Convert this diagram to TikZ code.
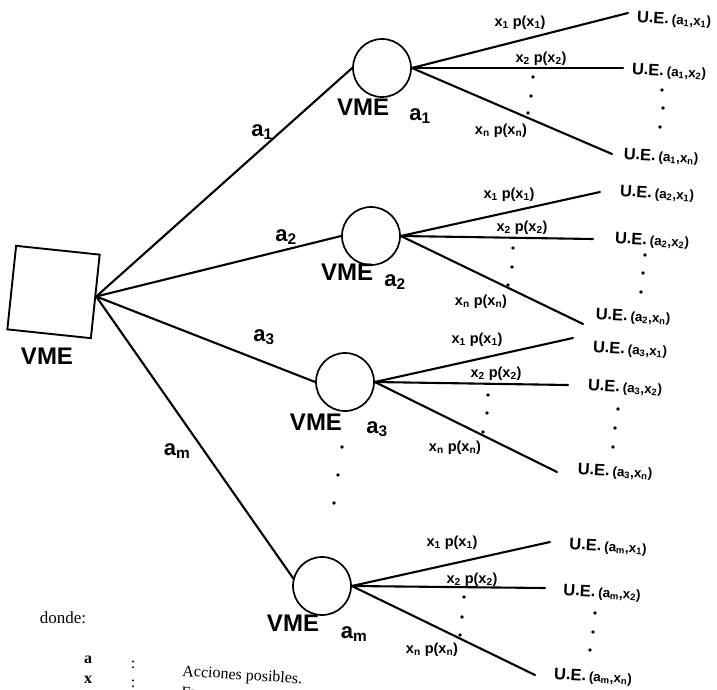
\documentclass[tikz,border=0pt]{standalone}
\usepackage{fontspec}
\setmainfont{Liberation Sans}
\newfontfamily\serifface{Liberation Serif}
\newcommand\uelab[2]{{\fontsize{16.5}{16.5}\selectfont\bfseries U.E.}\ {\fontsize{13.5}{13.5}\selectfont\bfseries (a\textsubscript{#1},x\textsubscript{#2})}}
\newcommand\brlab[1]{x\textsubscript{#1} p(x\textsubscript{#1})}
\begin{document}
\begin{tikzpicture}[x=1pt,y=-1pt,
  branch/.style={line width=2.1pt, line cap=round},
  chance/.style={circle, draw, line width=1.7pt, minimum size=58pt, inner sep=0pt},
  decision/.style={rectangle, draw, line width=1.9pt, minimum size=84pt, inner sep=0pt, rotate=-6},
  vme/.style={font=\fontsize{24}{24}\selectfont\bfseries, inner sep=0pt},
  act/.style={font=\fontsize{22}{22}\selectfont\bfseries, inner sep=0pt},
  ue/.style={inner sep=0pt, rotate=-3},
  br/.style={font=\fontsize{14.5}{14.5}\selectfont\bfseries, inner sep=0pt},
  serif/.style={font=\fontsize{16}{16}\selectfont\serifface, inner sep=0pt},
]
\fill[white] (0,0) rectangle (717,690);
\useasboundingbox (0,0) rectangle (717,690);

% decision node
\node[decision] (root) at (53.5,292) {};
\node[vme] (rootlab) at (47,356) {VME};

% chance nodes
\node[chance] (c1) at (382,68) {};
\node[chance] (c2) at (371,236) {};
\node[chance] (c3) at (345,382) {};
\node[chance] (cm) at (322,586) {};

\node[vme] (v1) at (363,107) {VME};
\node[vme] (v2) at (347,272) {VME};
\node[vme] (v3) at (316,422) {VME};
\node[vme] (vm) at (293,623) {VME};
\node[act] (s1) at (420,116) {a\textsubscript{1}};
\node[act] (s2) at (395,282) {a\textsubscript{2}};
\node[act] (s3) at (377,429) {a\textsubscript{3}};
\node[act] (sm) at (354,634) {a\textsubscript{m}};

% actions
\draw[branch] (root.east) -- (c1.west);
\draw[branch] (root.east) -- (c2.west);
\draw[branch] (root.east) -- (c3.west);
\draw[branch] (root.east) -- (cm.165);
\node[act] (a1lab) at (262,132) {a\textsubscript{1}};
\node[act] (a2lab) at (286,237) {a\textsubscript{2}};
\node[act] (a3lab) at (264,337) {a\textsubscript{3}};
\node[act] (amlab) at (177,451) {a\textsubscript{m}};

% branch end points
\coordinate (e11) at (628,13);  \coordinate (e12) at (623,68);  \coordinate (e1n) at (612,154);
\coordinate (e21) at (600,192); \coordinate (e22) at (593,239); \coordinate (e2n) at (583,324);
\coordinate (e31) at (573,338); \coordinate (e32) at (568,385); \coordinate (e3n) at (557,472);
\coordinate (em1) at (550,542); \coordinate (em2) at (545,588); \coordinate (emn) at (535,675);

\foreach \c/\i in {c1/1,c2/2,c3/3,cm/m}{
  \draw[branch] (\c.east) -- (e\i1);
  \draw[branch] (\c.east) -- (e\i2);
  \draw[branch] (\c.east) -- (e\i n);
}

% outcome labels
\node[ue] (u11) at (674,20)  {\uelab{1}{1}};
\node[ue] (u12) at (669,72)  {\uelab{1}{2}};
\node[ue] (u1n) at (661,157) {\uelab{1}{n}};
\node[ue] (u21) at (657,194) {\uelab{2}{1}};
\node[ue] (u22) at (652,241) {\uelab{2}{2}};
\node[ue] (u2n) at (633,317) {\uelab{2}{n}};
\node[ue] (u31) at (630,350) {\uelab{3}{1}};
\node[ue] (u32) at (625,388) {\uelab{3}{2}};
\node[ue] (u3n) at (615,472) {\uelab{3}{n}};
\node[ue] (um1) at (608,547) {\uelab{m}{1}};
\node[ue] (um2) at (602,593) {\uelab{m}{2}};
\node[ue] (umn) at (593,677) {\uelab{m}{n}};

% probability labels
\node[br] (b11) at (520,23)  {\brlab{1}};
\node[br] (b12) at (541,59)  {\brlab{2}};
\node[br] (b1n) at (501,131) {\brlab{n}};
\node[br] (b21) at (509,195) {\brlab{1}};
\node[br] (b22) at (522,228) {\brlab{2}};
\node[br] (b2n) at (481,302) {\brlab{n}};
\node[br] (b31) at (477,340) {\brlab{1}};
\node[br] (b32) at (496,374) {\brlab{2}};
\node[br] (b3n) at (455,448) {\brlab{n}};
\node[br] (bm1) at (452,543) {\brlab{1}};
\node[br] (bm2) at (472,580) {\brlab{2}};
\node[br] (bmn) at (432,650) {\brlab{n}};

% ellipsis dots
\foreach \p in {(533,77),(531,96),(528,113),(662,90),(663,108),(660,127),
                (513,248),(512,267),(508,285),(645,255),(643,273),(641,292),
                (488,395),(487,413),(483,432),(618,409),(615,428),(613,447),
                (464,597),(462,617),(460,635),(595,613),(593,632),(590,650),
                (342,447),(338,475),(334,503)}
  \fill \p circle[radius=1.8];

% legend
\node[serif, font=\fontsize{17}{17}\selectfont\serifface] (donde) at (63,618) {donde:};
\node[serif, font=\fontsize{16}{16}\selectfont\serifface\bfseries] (la) at (88,660) {a};
\node[serif, font=\fontsize{16}{16}\selectfont\serifface\bfseries] (lx) at (88,680) {x};
\node[serif] (ca) at (133,665) {:};
\node[serif] (cx) at (133,684) {:};
\node[serif, anchor=base west, rotate=-3.7] (acc) at (182,676) {Acciones posibles.};
\node[serif, anchor=base west, rotate=-3.7] (evt) at (181,697) {Eventos};
\end{tikzpicture}
\end{document}
